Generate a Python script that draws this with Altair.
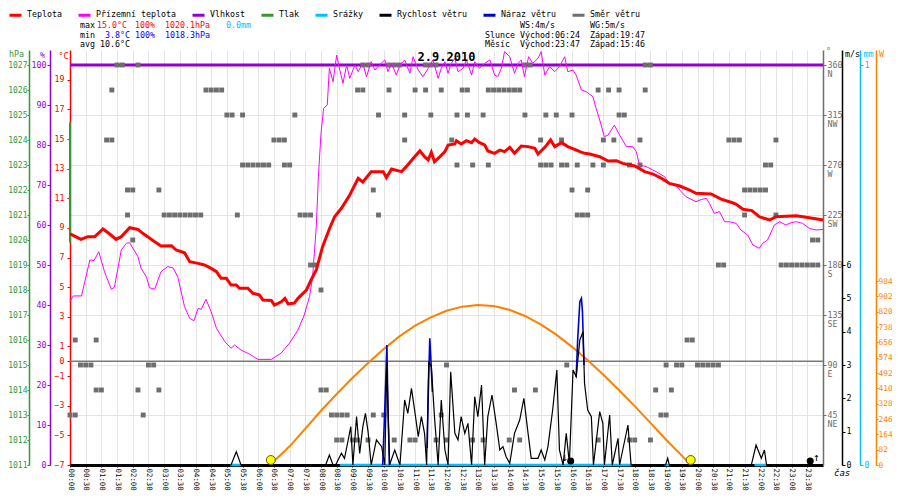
import altair as alt
import pandas as pd

MONO = "DejaVu Sans Mono"
FS = 8.3

# ---------------- data ----------------
SERIES = ["Teplota", "Přízemní teplota", "Vlhkost", "Tlak", "Srážky",
          "Rychlost větru", "Náraz větru", "Směr větru"]
SERIES_COLORS = ["#ff0000", "#ff00ff", "#9400d3", "#339933", "#00bfff",
                 "#000000", "#0000cc", "#6e6e6e"]

# (minute of day, °C)
TEMP = [(0, 8.6), (21, 8.23), (34, 8.41), (47, 8.4), (63, 8.93), (76, 8.59), (88, 8.23), (98, 8.41),
        (114, 9.02), (130, 8.9), (139, 8.64), (162, 8.07), (174, 7.78), (194, 7.8), (203, 7.51),
        (219, 7.33), (229, 6.72), (245, 6.61), (257, 6.5), (270, 6.27), (280, 6.05), (289, 5.6),
        (299, 5.6), (308, 5.15), (318, 5.15), (324, 4.93), (340, 4.93), (350, 4.59), (362, 4.48),
        (369, 4.14), (385, 4.1), (391, 3.8), (404, 4.02), (411, 4.25), (417, 3.87), (429, 3.93),
        (436, 4.25), (452, 4.81), (461, 5.49), (471, 6.16), (483, 7.74), (496, 8.93), (506, 9.76),
        (519, 10.33), (535, 11.23), (551, 12.35), (560, 12.1), (576, 12.8), (599, 12.8), (605, 12.4),
        (615, 12.98), (634, 12.8), (643, 13.14), (659, 13.81), (669, 14.2), (678, 13.81), (685, 13.59),
        (691, 14.11), (697, 13.47), (707, 13.8), (717, 14.15), (723, 14.6), (736, 14.67), (739, 14.89),
        (748, 14.67), (758, 14.89), (768, 14.76), (774, 15.0), (783, 14.76), (793, 14.6), (799, 14.2),
        (812, 14.04), (822, 14.26), (831, 14.15), (841, 14.44), (850, 14.04), (863, 14.53), (876, 14.49),
        (889, 14.38), (895, 13.99), (908, 14.44), (919, 14.94), (927, 14.49), (940, 14.76), (952, 14.49),
        (965, 14.31), (975, 14.15), (984, 14.04), (994, 13.99), (1013, 13.81), (1029, 13.52),
        (1045, 13.54), (1057, 13.36), (1080, 13.18), (1099, 12.8), (1115, 12.64), (1131, 12.35),
        (1146, 12.01), (1166, 11.83), (1185, 11.56), (1197, 11.34), (1226, 11.29), (1245, 10.95),
        (1267, 10.7), (1274, 10.6), (1287, 10.26), (1304, 10.17), (1318, 9.76), (1338, 9.54),
        (1350, 9.76), (1389, 9.83), (1414, 9.69), (1440, 9.54)]

GROUND = [(0, 4.02), (6, 4.41), (22, 4.41), (38, 6.84), (46, 6.8), (55, 7.4), (66, 6.05), (79, 4.86),
          (85, 5.0), (98, 7.51), (108, 7.97), (114, 8.0), (130, 7.06), (136, 6.27), (146, 5.71),
          (152, 4.97), (162, 4.86), (174, 6.05), (187, 6.39), (197, 6.3), (206, 5.71), (219, 3.69),
          (229, 2.9), (237, 2.74), (245, 3.57), (251, 3.5), (260, 4.18), (270, 3.35), (280, 2.23),
          (296, 1.33), (308, 0.88), (315, 1.1), (327, 0.76), (343, 0.49), (359, 0.13), (385, 0.13),
          (404, 0.56), (420, 1.24), (436, 2.11), (448, 3.13), (458, 4.36), (464, 5.71), (471, 9.09),
          (475, 12.46), (480, 15.39), (485, 17.08), (492, 17.3), (496, 19.78), (503, 18.87), (510, 20.67),
          (516, 19.66), (522, 18.76), (529, 20.0), (535, 19.1), (545, 20.0), (551, 19.55), (560, 20.11),
          (567, 19.21), (576, 20.22), (583, 19.66), (592, 20.0), (602, 20.34), (608, 19.55), (615, 20.11),
          (624, 19.32), (631, 20.0), (640, 20.34), (650, 19.44), (656, 20.56), (666, 19.66), (675, 19.21),
          (685, 19.78), (694, 20.34), (704, 19.1), (710, 19.78), (717, 20.22), (723, 19.44), (729, 20.11),
          (736, 20.45), (742, 19.55), (752, 19.78), (758, 20.34), (768, 19.32), (774, 20.22), (783, 19.78),
          (793, 20.11), (803, 20.34), (812, 19.32), (818, 19.21), (825, 19.78), (831, 20.9), (841, 20.56),
          (850, 19.44), (857, 20.11), (863, 20.34), (869, 19.21), (877, 20.56), (885, 20.11), (895, 20.45),
          (901, 20.9), (908, 19.32), (917, 19.89), (927, 19.55), (936, 19.89), (946, 20.56), (952, 19.55),
          (962, 19.66), (968, 19.32), (978, 18.31), (987, 18.2), (1000, 17.86), (1006, 17.08),
          (1013, 16.29), (1022, 15.16), (1029, 15.27), (1041, 15.95), (1051, 15.27), (1064, 14.49),
          (1076, 14.49), (1083, 14.15), (1089, 13.25), (1102, 13.14), (1121, 12.8), (1137, 12.46),
          (1146, 12.01), (1159, 11.9), (1166, 11.56), (1178, 11.11), (1197, 10.77), (1207, 10.92),
          (1217, 11.0), (1223, 10.65), (1232, 9.99), (1242, 10.1), (1252, 9.42), (1261, 9.42),
          (1274, 9.31), (1283, 8.86), (1296, 8.52), (1306, 7.85), (1318, 7.63), (1325, 7.97),
          (1334, 8.19), (1347, 9.2), (1357, 9.42), (1369, 9.2), (1379, 9.36), (1389, 9.42),
          (1401, 9.31), (1414, 8.97), (1427, 8.86), (1440, 8.9)]

HUMIDITY = [(0, 100), (1440, 100)]
PRESSURE = [(0, 1024.7), (0, 1019.9)]
RAIN_PERIODS = [(306, 327), (516, 1074), (1137, 1146), (1309, 1332)]  # 0.0 mm

# (minute, m/s)
WIND = [(0, 0), (308, 0), (318, 0.4), (327, 0), (489, 0), (496, 0.3), (503, 0), (508, 0), (519, 0.35),
        (525, 0.2), (532, 0.75), (537, 1.15), (541, 0), (548, 1.45), (554, 0.35), (560, 1.15),
        (565, 1.55), (570, 1.0), (576, 0), (586, 0.75), (596, 0.55), (602, 0), (606, 3.05), (611, 0),
        (621, 0.45), (631, 0), (640, 1.95), (646, 1.55), (653, 2.3), (659, 1.65), (666, 0.85),
        (672, 1.45), (678, 0.95), (682, 0), (686, 3.1), (691, 2.95), (697, 1.45), (704, 0), (710, 1.95),
        (717, 0.45), (723, 0), (728, 2.8), (736, 0.95), (742, 0.75), (748, 1.45), (755, 0.95),
        (761, 1.25), (768, 0), (774, 2.05), (780, 1.45), (787, 2.4), (793, 0), (799, 1.45), (807, 2.1),
        (815, 1.25), (822, 0.45), (828, 0.55), (834, 0.25), (841, 0.05), (850, 0.95), (860, 1.35),
        (868, 2.0), (876, 0.95), (882, 0.2), (895, 0.2), (901, 0.45), (908, 0.15), (914, 0.55),
        (923, 1.65), (931, 2.85), (936, 0.45), (943, 0), (949, 0.95), (955, 0.05), (962, 2.85),
        (968, 2.65), (975, 3.75), (981, 4.0), (984, 2.45), (990, 1.65), (997, 1.45), (1001, 0),
        (1013, 1.6), (1019, 1.25), (1022, 0), (1032, 1.5), (1037, 0), (1048, 0.8), (1051, 0),
        (1067, 1.2), (1073, 0), (1139, 0), (1143, 0.2), (1146, 0), (1303, 0), (1312, 0.6),
        (1322, 0.2), (1328, 0.45), (1332, 0), (1440, 0)]

# (segment, minute, m/s)
GUST = [(1, 598, 0), (1, 602, 1.7), (1, 606, 3.6), (1, 608, 1.7), (1, 611, 0),
        (2, 683, 0.5), (2, 685, 2.0), (2, 688, 3.8), (2, 690, 3.2), (2, 693, 2.2),
        (3, 968, 2.65), (3, 971, 3.8), (3, 975, 4.9), (3, 978, 5.0), (3, 980, 4.6), (3, 983, 3.0)]

# (time, W)
SUN = [("06:24", 0), ("06:30", 20), ("07:00", 100), ("07:30", 195), ("08:00", 290), ("08:30", 380),
       ("09:00", 465), ("09:30", 545), ("10:00", 620), ("10:30", 688), ("11:00", 745), ("11:30", 790),
       ("12:00", 825), ("12:30", 847), ("13:00", 856), ("13:30", 850), ("14:00", 830), ("14:30", 797),
       ("15:00", 752), ("15:30", 697), ("16:00", 632), ("16:30", 560), ("17:00", 483), ("17:30", 400),
       ("18:00", 315), ("18:30", 225), ("19:00", 135), ("19:30", 50), ("19:47", 0)]

WIND_DIR = {
    360: ["01:30", "01:40", "02:10", "09:20", "09:30", "10:10", "10:20", "10:30", "11:20", "11:30",
          "11:40", "14:30", "14:40", "18:20", "18:30"],
    337.5: ["01:20", "04:20", "04:30", "04:40", "04:50", "09:10", "09:20", "10:10", "11:00", "11:20",
            "11:50", "12:30", "12:40", "13:20", "13:30", "13:40", "13:50", "14:00", "14:10", "14:20",
            "16:50", "17:10", "17:30", "18:20"],
    315: ["05:00", "05:10", "05:30", "07:10", "09:50", "10:40", "11:30", "12:20", "12:40", "13:10",
          "14:30", "15:10", "15:30", "16:00", "17:30", "17:40"],
    292.5: ["01:10", "01:20", "06:30", "06:40", "06:50", "10:40", "12:10", "15:00", "15:40", "17:00",
            "17:20", "18:10", "21:00", "21:10", "21:20", "22:30"],
    270: ["05:30", "05:40", "05:50", "06:00", "06:10", "06:20", "06:50", "07:00", "12:20", "12:50",
          "13:20", "15:00", "15:10", "15:20", "15:40", "15:50", "16:10", "16:40", "17:00", "17:50",
          "18:10", "22:10", "22:20"],
    247.5: ["01:50", "02:00", "02:50", "09:40", "16:00", "16:30", "21:30", "21:40", "21:50", "22:00",
            "22:10"],
    225: ["01:50", "03:00", "03:10", "03:20", "03:30", "03:40", "03:50", "04:00", "04:10", "05:20",
          "07:20", "07:30", "07:40", "09:50", "16:10", "16:20", "16:30", "21:30", "22:30"],
    202.5: ["02:00", "23:40", "23:50"],
    180: ["07:40", "07:50", "20:40", "20:50", "22:40", "22:50", "23:00", "23:10", "23:20", "23:30",
          "23:40", "23:50"],
    157.5: ["08:00"],
    112.5: ["00:10", "00:50", "19:40", "19:50"],
    90: ["00:20", "00:30", "00:40", "02:30", "02:40", "12:00", "15:50", "19:00", "19:20", "19:30",
         "20:00", "20:10", "20:20", "20:30", "20:40"],
    67.5: ["00:50", "01:00", "02:10", "02:50", "08:00", "08:10", "14:10", "14:50", "18:40", "19:10"],
    45: ["00:00", "00:10", "02:20", "08:20", "08:30", "08:40", "08:50", "09:40", "10:00", "11:50",
         "18:50", "19:00"],
    22.5: ["08:30", "08:40", "09:00", "09:10", "09:30", "10:20", "10:50", "11:00", "11:40", "12:00",
           "12:50", "13:10", "14:00", "14:20", "16:50", "17:50", "18:00", "18:30"],
}

DATE = "2.9.2010"
SUNRISE, SUNSET = "06:24", "19:47"
MOONRISE, MOONSET = "23:47", "15:46"
T_MAX, T_MIN, T_AVG = 15.0, 3.8, 10.6
H_MAX, H_MIN = 100, 100
P_MAX, P_MIN = 1020.1, 1018.3
RAIN_SUM = 0.0
WS, WG = 4, 5

TEMP_TICKS = [-7, -5, -3, -1, 0, 1, 3, 5, 7, 9, 11, 13, 15, 17, 19]
HUM_TICKS = list(range(0, 101, 10))
PRESS_TICKS = list(range(1011, 1028))
DIR_TICKS = [45, 90, 135, 180, 225, 270, 315, 360]
SPEED_TICKS = [0, 1, 2, 3, 4, 5, 6]
RAIN_TICKS = [0, 1]
RAD_TICKS = [0, 82, 164, 246, 328, 410, 492, 574, 656, 738, 820, 902, 984]


def to_min(s):
    h, m = s.split(":")
    return int(h) * 60 + int(m)


# ---------------- dataframes ----------------
df_temp = pd.DataFrame(TEMP, columns=["m", "v"]).assign(s="Teplota")
df_ground = pd.DataFrame(GROUND, columns=["m", "v"]).assign(s="Přízemní teplota")
df_hum = pd.DataFrame(HUMIDITY, columns=["m", "v"]).assign(s="Vlhkost")
df_press = pd.DataFrame(PRESSURE, columns=["m", "v"]).assign(s="Tlak")
df_rain = pd.DataFrame(RAIN_PERIODS, columns=["m", "m2"]).assign(v=0.0, s="Srážky")
df_wind = pd.DataFrame(WIND, columns=["m", "v"]).assign(s="Rychlost větru")
df_gust = pd.DataFrame(GUST, columns=["seg", "m", "v"]).assign(s="Náraz větru")
df_sun = pd.DataFrame([(to_min(t), w) for t, w in SUN], columns=["m", "v"])
df_dir = pd.DataFrame([(to_min(t), d) for d, ts in WIND_DIR.items() for t in ts], columns=["m", "d"])
df_sunev = pd.DataFrame({"m": [to_min(SUNRISE), to_min(SUNSET)]})

# ---------------- scales / axes ----------------
T_DOM = [-7, 21.0125]
H_DOM = [0, 103.75]
P_DOM = [1011, 1027.6]
D_DOM = [0, 373.5]
S_DOM = [0, 12.45]
R_DOM = [0, 1.0375]
W_DOM = [0, 2219.7]


def ys(dom):
    return alt.Scale(domain=dom, nice=False, zero=False)


def yaxis(orient, offset, values, color, title, tx, ty, size=FS, tick=3, pad=2, **kw):
    return alt.Axis(orient=orient, offset=offset, values=values, format="d",
                    labelColor=color, tickColor=color, domainColor=color, domainWidth=1.5,
                    tickSize=tick, labelPadding=pad, labelFont=MONO, labelFontSize=size,
                    labelOverlap=False, labelFlush=False, title=title, titleColor=color,
                    titleFont=MONO, titleFontSize=FS, titleFontWeight="normal", titleAngle=0,
                    titleX=tx, titleY=ty, titleAlign="center", titleBaseline="middle",
                    **({"grid": False} | kw))


T_AXIS = yaxis("left", 0, TEMP_TICKS, "#ff0000", "°C", -7, 6, tick=3, pad=3)
H_AXIS = yaxis("left", 20, HUM_TICKS, "#9400d3", "%", -8, 5, tick=3, pad=1)
P_AXIS = yaxis("left", 41, PRESS_TICKS, "#339933", "hPa", -13, 4, size=8, tick=2, pad=0)
D_AXIS = yaxis("right", 0, DIR_TICKS, "#6e6e6e", "°", 5, 1, tick=3, pad=1,
               grid=True, gridColor="#e4e4e4", gridWidth=1)
L_AXIS = alt.Axis(orient="right", offset=0, values=DIR_TICKS, domain=False, ticks=False, grid=False,
                  labelExpr="datum.value==360?'N':datum.value==315?'NW':datum.value==270?'W':"
                            "datum.value==225?'SW':datum.value==180?'S':datum.value==135?'SE':"
                            "datum.value==90?'E':'NE'",
                  labelColor="#6e6e6e", labelFont=MONO, labelFontSize=FS, labelPadding=4,
                  labelOffset=9, labelOverlap=False, labelFlush=False, title=None)
S_AXIS = yaxis("right", 19, SPEED_TICKS, "#000000", "m/s", 10, 4, tick=3, pad=1)
R_AXIS = yaxis("right", 37, RAIN_TICKS, "#00bfff", "mm", 8, 4, tick=3, pad=1)
W_AXIS = yaxis("right", 53, RAD_TICKS, "#ff8000", "W", 5, 4, size=7.8, tick=2, pad=0)

XAXIS = alt.Axis(values=list(range(0, 1440, 30)),
                 labelExpr="(datum.value < 600 ? '0' : '') + floor(datum.value / 60) + ':' + "
                           "(datum.value % 60 == 0 ? '00' : '30')",
                 labelAngle=90, labelAlign="left", labelBaseline="middle", labelFont=MONO,
                 labelFontSize=7.4, labelColor="black", labelPadding=1, labelFlush=False,
                 labelOverlap=False, tickColor="black", tickSize=2, domainColor="black",
                 domainWidth=3, grid=True, gridColor="#e4e4e4", gridWidth=1, title=None)
X = alt.X("m:Q", scale=alt.Scale(domain=[0, 1440], nice=False, zero=False), axis=XAXIS)

LEG = alt.Legend(orient="none", legendX=-62, legendY=-42.5, direction="horizontal", title=None,
                 symbolType="stroke", symbolStrokeWidth=3, symbolSize=144, labelFont=MONO,
                 labelFontSize=FS, labelColor="black", labelOffset=4, columnPadding=10,
                 padding=0, labelLimit=0)
COLOR = alt.Color("s:N", scale=alt.Scale(domain=SERIES, range=SERIES_COLORS), legend=LEG)

# ---------------- layers ----------------
zero = alt.Chart(pd.DataFrame({"v": [0]})).mark_rule(color="#7a7a7a", strokeWidth=1.5).encode(
    y=alt.Y("v:Q", scale=ys(T_DOM), axis=None))

hum = alt.Chart(df_hum).mark_line(strokeWidth=3).encode(
    x=X, y=alt.Y("v:Q", scale=ys(H_DOM), axis=H_AXIS), color=COLOR)

press = alt.Chart(df_press).mark_line(strokeWidth=2).encode(
    x=X, y=alt.Y("v:Q", scale=ys(P_DOM), axis=P_AXIS), color=COLOR)

wdir = alt.Chart(df_dir).mark_square(size=24, color="#6e6e6e", opacity=1).encode(
    x=X, y=alt.Y("d:Q", scale=ys(D_DOM), axis=D_AXIS))

letters = alt.Chart(df_dir).mark_square(size=1, opacity=0).encode(
    x=X, y=alt.Y("d:Q", scale=ys(D_DOM), axis=L_AXIS))

sun = alt.Chart(df_sun).mark_line(color="#ff8000", strokeWidth=2).encode(
    x=X, y=alt.Y("v:Q", scale=ys(W_DOM), axis=W_AXIS))

rain = alt.Chart(df_rain).mark_rule(strokeWidth=2.5).encode(
    x=X, x2="m2:Q", y=alt.Y("v:Q", scale=ys(R_DOM), axis=R_AXIS), color=COLOR)

gust = alt.Chart(df_gust).mark_line(strokeWidth=1.6).encode(
    x=X, y=alt.Y("v:Q", scale=ys(S_DOM), axis=None), detail="seg:N", color=COLOR)

wind = alt.Chart(df_wind).mark_line(strokeWidth=1.2).encode(
    x=X, y=alt.Y("v:Q", scale=ys(S_DOM), axis=S_AXIS), color=COLOR)

ground = alt.Chart(df_ground).mark_line(strokeWidth=1).encode(
    x=X, y=alt.Y("v:Q", scale=ys(T_DOM), axis=None), color=COLOR)

temp = alt.Chart(df_temp).mark_line(strokeWidth=3).encode(
    x=X, y=alt.Y("v:Q", scale=ys(T_DOM), axis=T_AXIS), color=COLOR)

sunmarks = alt.Chart(df_sunev).mark_point(shape="circle", filled=True, size=80, fill="#ffff00",
                                          stroke="#5a5a00", strokeWidth=1, opacity=1).encode(
    x=X, y=alt.value(410))

moonset_dot = alt.Chart(pd.DataFrame({"m": [to_min(MOONSET)]})).mark_circle(
    size=50, color="black", opacity=1, xOffset=6).encode(x=X, y=alt.value(411))
moonrise_dot = alt.Chart(pd.DataFrame({"m": [to_min(MOONRISE)]})).mark_circle(
    size=50, color="black", opacity=1, xOffset=-6).encode(x=X, y=alt.value(411))
moon_arrows = alt.Chart(pd.DataFrame({"m": [to_min(MOONSET), to_min(MOONRISE)],
                                      "t": ["↓", "↑"]})).mark_text(
    font=MONO, fontSize=11, color="black", baseline="middle").encode(x=X, y=alt.value(408), text="t:N")


def txt(s, x, y, color="black", size=FS, align="left", **kw):
    return alt.Chart(pd.DataFrame({"t": [s]})).mark_text(
        font=MONO, fontSize=size, color=color, align=align, baseline="middle", **kw).encode(
        x=alt.value(x), y=alt.value(y), text="t:N")


Y1, Y2, Y3 = -24, -14.5, -5.5
texts = [
    txt("max", 10, Y1), txt(f"{T_MAX:.1f}°C", 27, Y1, "#ff0000"),
    txt(f"{H_MAX}%", 65, Y1, "#ff0000"), txt(f"{P_MAX:.1f}hPa", 95, Y1, "#ff0000"),
    txt(f"{RAIN_SUM:.1f}mm", 156, Y1, "#00bfff"),
    txt("min", 10, Y2), txt(f"{T_MIN:.1f}°C", 35, Y2, "#0000ff"),
    txt(f"{H_MIN}%", 65, Y2, "#0000ff"), txt(f"{P_MIN:.1f}hPa", 95, Y2, "#0000ff"),
    txt(f"avg {T_AVG:.1f}°C", 10, Y3),
    txt(f"WS:{WS}m/s", 450, Y1), txt(f"WG:{WG}m/s", 520, Y1),
    txt("Slunce", 415, Y2), txt(f"Východ:{SUNRISE}", 450, Y2), txt(f"Západ:{SUNSET}", 520, Y2),
    txt("Měsíc", 415, Y3), txt(f"Východ:{MOONRISE}", 450, Y3), txt(f"Západ:{MOONSET}", 520, Y3),
    txt(DATE, 376.5, 7, size=12, align="center", fontWeight="bold"),
    txt("čas", 764, 423, size=9, fontStyle="italic"),
]

chart = alt.layer(
    zero, hum, press, wdir, letters, sun, rain, gust, wind, ground, temp,
    sunmarks, moonset_dot, moonrise_dot, moon_arrows, *texts
).resolve_scale(y="independent").properties(
    width=753, height=415,
    padding={"left": 62, "top": 42, "right": 69, "bottom": 27},
    autosize=alt.AutoSizeParams(type="none"),
    background="white",
).configure_view(stroke=None)

chart.save("out.html", embed_options={"renderer": "svg", "actions": False})
